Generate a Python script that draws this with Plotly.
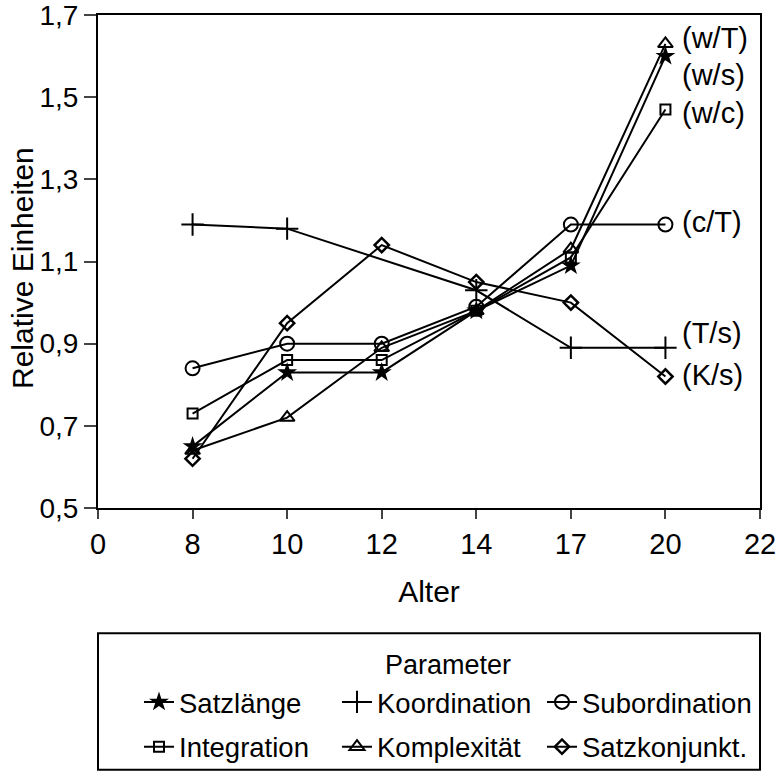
import plotly.graph_objects as go

# ---- data ----
tick_labels = ["0", "8", "10", "12", "14", "17", "20", "22"]
ages = ["8", "10", "12", "14", "17", "20"]

satzlaenge = [0.65, 0.83, 0.83, 0.98, 1.09, 1.60]
koordination = [1.19, 1.18, None, 1.03, 0.89, 0.89]
subordination = [0.84, 0.90, 0.90, 0.99, 1.19, 1.19]
integration = [0.73, 0.86, 0.86, 0.98, 1.11, 1.47]
komplexitaet = [0.64, 0.72, 0.89, 0.98, 1.13, 1.63]
satzkonjunkt = [0.62, 0.95, 1.14, 1.05, 1.00, 0.82]

end_labels = ["(w/T)", "(w/s)", "(w/c)", "(c/T)", "(T/s)", "(K/s)"]
end_label_y = [1.645, 1.555, 1.462, 1.196, 0.925, 0.823]

y_ticks = [0.5, 0.7, 0.9, 1.1, 1.3, 1.5, 1.7]

# ---- figure ----
W, H = 777, 773
xpos = [tick_labels.index(a) for a in ages]
FONT = "Liberation Sans, Arial, sans-serif"

series = [
    ("Satzlänge", satzlaenge, dict(symbol="star", size=15, color="black"), "legend"),
    ("Koordination", koordination, dict(symbol="cross-thin-open", size=16, color="black",
                                         line=dict(width=2, color="black")), "legend2"),
    ("Subordination", subordination, dict(symbol="circle-open", size=14, color="black",
                                          line=dict(width=2, color="black")), "legend3"),
    ("Integration", integration, dict(symbol="square-open", size=10, color="black",
                                      line=dict(width=2, color="black")), "legend"),
    ("Komplexität", komplexitaet, dict(symbol="triangle-up-open", size=13, color="black",
                                       line=dict(width=2, color="black")), "legend2"),
    ("Satzkonjunkt.", satzkonjunkt, dict(symbol="diamond-open", size=11, color="black",
                                         line=dict(width=2.5, color="black")), "legend3"),
]

fig = go.Figure()
for name, vals, mk, lg in series:
    fig.add_trace(go.Scatter(
        x=xpos, y=vals, name=name, mode="lines+markers",
        connectgaps=True, legend=lg, legendgroup=name,
        line=dict(color="black", width=2),
        marker=mk,
    ))

for txt, yv in zip(end_labels, end_label_y):
    fig.add_annotation(x=xpos[-1], y=yv, xref="x", yref="y", text=txt,
                       showarrow=False, xanchor="left", yanchor="middle", xshift=15,
                       font=dict(size=29, color="black", family=FONT))

# y-axis title
fig.add_annotation(x=-0.1148, y=0.4868, xref="paper", yref="paper",
                   text="Relative Einheiten", textangle=-90, showarrow=False,
                   xanchor="center", yanchor="middle",
                   font=dict(size=30, color="black", family=FONT))

# legend title and frame
fig.add_annotation(x=0.529, y=-0.3185, xref="paper", yref="paper", text="Parameter",
                   showarrow=False, xanchor="center", yanchor="middle",
                   font=dict(size=27, color="black", family=FONT))
fig.add_shape(type="rect", xref="paper", yref="paper",
              x0=0, x1=1, y0=-0.531, y1=-0.254,
              line=dict(color="black", width=2))

leg_y = 1 - 724.5 / H


def leg(xpx):
    return dict(
        orientation="v", xref="container", yref="container",
        x=xpx / W, xanchor="left", y=leg_y, yanchor="middle",
        tracegroupgap=6,
        font=dict(size=27.5, family=FONT, color="black"),
        bgcolor="rgba(0,0,0,0)", borderwidth=0,
    )


fig.update_layout(
    width=W, height=H,
    margin=dict(l=98, r=17, t=15, b=265, autoexpand=False),
    paper_bgcolor="white", plot_bgcolor="white",
    separators=",.",
    font=dict(family=FONT, size=26, color="black"),
    showlegend=True,
    legend=leg(139),
    legend2=leg(337),
    legend3=leg(542),
    xaxis=dict(
        range=[0, 7], tickmode="array", tickvals=list(range(len(tick_labels))),
        ticktext=tick_labels, ticks="outside", ticklen=9, tickwidth=2,
        showline=True, linewidth=2, linecolor="black", mirror=True,
        showgrid=False, zeroline=False, automargin=False,
        tickfont=dict(size=29), ticklabeloverflow="allow",
        title=dict(text="Alter", font=dict(size=30), standoff=22),
    ),
    yaxis=dict(
        range=[0.5, 1.7001], tickmode="array", tickvals=y_ticks, tickformat=".1f",
        ticks="outside", ticklen=12, tickwidth=2,
        showline=True, linewidth=2, linecolor="black", mirror=True,
        showgrid=False, zeroline=False, automargin=False,
        tickfont=dict(size=28), ticklabeloverflow="allow",
    ),
)

fig.write_html("out.html", config={"displayModeBar": False},
               post_script="document.body.style.margin='0';document.body.style.overflow='hidden';")
